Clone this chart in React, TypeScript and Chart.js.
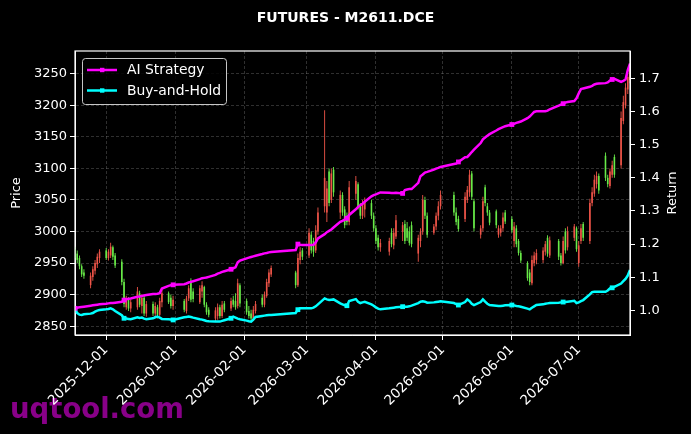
import { useEffect, useRef } from "react";
import { Chart, registerables } from "chart.js";

Chart.register(...registerables);

const TITLE = "FUTURES - M2611.DCE";

const dates = [
  "2025-11-17","2025-11-18","2025-11-19","2025-11-20","2025-11-21","2025-11-24","2025-11-25","2025-11-26","2025-11-27","2025-11-28",
  "2025-12-01","2025-12-02","2025-12-03","2025-12-04","2025-12-05","2025-12-08","2025-12-09","2025-12-10","2025-12-11","2025-12-12",
  "2025-12-15","2025-12-16","2025-12-17","2025-12-18","2025-12-19","2025-12-22","2025-12-23","2025-12-24","2025-12-25","2025-12-26",
  "2025-12-29","2025-12-30","2025-12-31",
  "2026-01-05","2026-01-06","2026-01-07","2026-01-08","2026-01-09","2026-01-12","2026-01-13","2026-01-14","2026-01-15","2026-01-16",
  "2026-01-19","2026-01-20","2026-01-21","2026-01-22","2026-01-23","2026-01-26","2026-01-27","2026-01-28","2026-01-29","2026-01-30",
  "2026-02-02","2026-02-03","2026-02-04","2026-02-05","2026-02-06","2026-02-09","2026-02-10","2026-02-11","2026-02-12","2026-02-13",
  "2026-02-24","2026-02-25","2026-02-26","2026-02-27",
  "2026-03-02","2026-03-03","2026-03-04","2026-03-05","2026-03-06","2026-03-09","2026-03-10","2026-03-11","2026-03-12","2026-03-13",
  "2026-03-16","2026-03-17","2026-03-18","2026-03-19","2026-03-20","2026-03-23","2026-03-24","2026-03-25","2026-03-26","2026-03-27",
  "2026-03-30","2026-03-31",
  "2026-04-01","2026-04-02","2026-04-03","2026-04-07","2026-04-08","2026-04-09","2026-04-10","2026-04-13","2026-04-14","2026-04-15",
  "2026-04-16","2026-04-17","2026-04-20","2026-04-21","2026-04-22","2026-04-23","2026-04-24","2026-04-27","2026-04-28","2026-04-29",
  "2026-04-30",
  "2026-05-06","2026-05-07","2026-05-08","2026-05-11","2026-05-12","2026-05-13","2026-05-14","2026-05-15","2026-05-18","2026-05-19",
  "2026-05-20","2026-05-21","2026-05-22","2026-05-25","2026-05-26","2026-05-27","2026-05-28","2026-05-29",
  "2026-06-01","2026-06-02","2026-06-03","2026-06-04","2026-06-05","2026-06-08","2026-06-09","2026-06-10","2026-06-11","2026-06-12",
  "2026-06-15","2026-06-16","2026-06-17","2026-06-18","2026-06-22","2026-06-23","2026-06-24","2026-06-25","2026-06-26","2026-06-29",
  "2026-06-30",
  "2026-07-01","2026-07-02","2026-07-03","2026-07-06","2026-07-07","2026-07-08","2026-07-09","2026-07-10","2026-07-13","2026-07-14",
  "2026-07-15","2026-07-16","2026-07-17","2026-07-20","2026-07-21","2026-07-22","2026-07-23","2026-07-24",
];

const opens = [
  2972,2965,2958,2945,2935,2915,2928,2938,2948,2958,
  2970,2958,2962,2975,2962,2952,2920,2880,2892,2878,2880,2902,2882,2895,2870,2885,2870,2880,2868,2888,2902,2895,2882,
  2890,2874,2894,2922,2905,2888,2905,2912,2884,2876,2862,2866,2880,2866,2886,2878,2892,2890,2882,2915,
  2890,2874,2870,2862,2874,2895,2884,2898,2918,2932,2935,2915,2955,2970,
  2962,2995,2985,2970,3000,3040,3030,3095,3050,3098,3030,3058,3035,3025,3015,3060,3075,3040,3025,3035,3045,3025,
  3005,2990,2975,2968,2998,2978,2992,3000,3012,3005,3000,3010,2965,2985,3000,3050,3025,2998,3008,3025,3040,
  3058,3030,3020,3020,3050,3062,3092,3048,2995,3005,3070,3040,3030,3032,2995,2998,3005,3030,
  3020,2985,3005,2985,2966,2950,2935,2918,2950,2955,2955,2968,2990,2962,2985,2962,2950,3000,2975,2990,3005,
  2950,2985,3012,2985,3045,3060,3075,3088,3120,3085,3072,3090,3118,3105,3175,3200,3225,3240,
];

const highs = [
  2976,2970,2962,2948,2940,2935,2945,2955,2965,2972,
  2974,2972,2982,2978,2966,2956,2925,2898,2896,2892,2912,2906,2900,2898,2890,2889,2888,2884,2895,2910,2905,2900,2898,
  2893,2898,2915,2926,2910,2915,2921,2914,2888,2880,2880,2886,2884,2890,2890,2895,2898,2902,2925,2918,
  2894,2882,2876,2882,2890,2900,2905,2925,2940,2946,2938,2965,2975,2974,
  3005,3000,2990,3010,3038,3192,3080,3100,3100,3102,3065,3062,3040,3030,3080,3088,3078,3045,3050,3054,3050,3030,
  3010,2995,2988,2990,3005,3005,3026,3015,3018,3015,3008,3016,2995,3005,3058,3055,3030,3012,3030,3048,3065,
  3063,3038,3025,3062,3072,3098,3096,3052,3010,3055,3074,3045,3034,3035,3010,3010,3030,3034,
  3024,3015,3010,2988,2970,2953,2940,2962,2968,2972,2975,2985,2994,2992,2988,2966,2992,3005,3008,3012,3008,
  2985,3012,3015,3052,3070,3090,3095,3092,3125,3090,3100,3112,3122,3190,3215,3235,3250,3265,
];

const lows = [
  2955,2950,2940,2928,2925,2910,2922,2932,2942,2950,
  2955,2954,2958,2955,2942,2915,2880,2876,2874,2872,2876,2880,2870,2866,2865,2866,2864,2862,2865,2880,2885,2878,2876,
  2872,2870,2890,2888,2888,2885,2895,2880,2868,2864,2858,2860,2862,2863,2872,2874,2880,2876,2878,2880,
  2868,2862,2858,2858,2870,2880,2880,2895,2912,2928,2910,2912,2948,2955,
  2958,2965,2960,2966,2995,3030,3015,3040,3045,3055,3020,3025,3005,3010,3010,3050,3035,3020,3020,3022,3020,3000,
  2980,2970,2968,2962,2975,2972,2988,2985,2980,2985,2978,2975,2952,2975,2995,3020,2990,2995,3002,3018,3035,
  3025,3010,3000,3015,3045,3055,3050,3000,2989,3000,3040,3025,3010,3005,2990,2992,3000,3012,
  2998,2975,2975,2962,2950,2922,2915,2915,2945,2948,2950,2962,2960,2958,2955,2946,2948,2965,2970,2985,2968,
  2944,2980,2985,2980,3040,3055,3068,3060,3080,3070,3068,3085,3085,3100,3170,3195,3218,3235,
];

const closes = [
  2958,2955,2945,2932,2930,2930,2940,2950,2960,2968,
  2958,2968,2976,2960,2946,2920,2885,2894,2878,2888,2905,2884,2895,2870,2885,2870,2882,2868,2890,2902,2888,2882,2892,
  2876,2894,2910,2892,2893,2910,2915,2884,2872,2868,2875,2880,2866,2884,2876,2890,2884,2880,2918,2886,
  2872,2866,2862,2876,2885,2884,2900,2920,2935,2942,2915,2958,2968,2960,
  2998,2970,2968,3002,3030,3085,3068,3045,3092,3062,3058,3030,3010,3015,3070,3080,3040,3025,3045,3048,3025,3005,
  2985,2975,2982,2985,2980,2998,3018,3010,2985,2990,2982,2980,2990,3000,3050,3025,2995,3008,3025,3040,3058,
  3030,3015,3004,3055,3066,3090,3055,3005,3005,3048,3045,3030,3014,3010,3005,3005,3022,3016,
  3002,3008,2980,2966,2954,2926,2920,2955,2962,2966,2970,2980,2965,2986,2960,2950,2985,2970,3000,3008,2972,
  2978,3005,2990,3045,3062,3082,3088,3065,3085,3075,3095,3105,3090,3180,3205,3228,3245,3258,
];

const aiReturn = [
  1.006,1.008,1.009,1.010,1.011,1.014,1.015,1.016,1.017,1.018,
  1.020,1.021,1.022,1.022,1.023,1.026,1.031,1.033,1.035,1.036,1.041,1.042,1.043,1.045,1.046,1.049,1.049,1.050,1.052,1.066,1.074,1.076,1.077,
  1.079,1.081,1.084,1.086,1.088,1.094,1.097,1.098,1.099,1.101,1.107,1.111,1.113,1.116,1.118,1.124,1.127,1.130,1.145,1.150,
  1.157,1.159,1.161,1.163,1.165,1.170,1.172,1.173,1.175,1.176,1.182,1.200,1.198,1.197,
  1.197,1.197,1.198,1.205,1.217,1.230,1.236,1.240,1.244,1.250,1.267,1.270,1.274,1.278,1.288,1.305,1.312,1.317,1.322,1.328,1.344,1.348,
  1.350,1.353,1.356,1.355,1.354,1.354,1.355,1.353,1.363,1.365,1.366,1.366,1.385,1.405,1.410,1.416,1.418,1.425,1.428,1.430,1.433,
  1.442,1.443,1.448,1.462,1.463,1.470,1.478,1.485,1.505,1.516,1.522,1.527,1.532,1.543,1.547,1.550,1.553,1.556,
  1.561,1.563,1.566,1.568,1.570,1.580,1.585,1.592,1.599,1.601,1.601,1.601,1.603,1.607,1.618,1.621,1.624,1.627,1.629,1.632,1.640,
  1.655,1.668,1.670,1.675,1.678,1.682,1.684,1.685,1.686,1.688,1.694,1.697,1.699,1.690,1.693,1.697,1.725,1.745,
];

const bhReturn = [
  0.999,0.992,0.987,0.986,0.988,0.990,0.992,0.996,0.999,1.001,
  1.003,1.004,1.006,1.003,0.998,0.985,0.976,0.975,0.974,0.973,0.979,0.977,0.978,0.975,0.973,0.976,0.979,0.981,0.978,0.974,0.973,0.972,0.971,
  0.979,0.980,0.981,0.980,0.978,0.973,0.972,0.970,0.968,0.967,0.966,0.966,0.966,0.968,0.970,0.976,0.981,0.978,0.975,0.973,
  0.969,0.967,0.966,0.972,0.980,0.983,0.984,0.985,0.986,0.986,0.992,1.002,1.006,1.006,
  1.006,1.006,1.008,1.012,1.018,1.036,1.033,1.031,1.032,1.033,1.021,1.018,1.015,1.014,1.028,1.034,1.026,1.022,1.024,1.026,1.018,1.014,
  1.009,1.005,1.003,1.006,1.007,1.008,1.009,1.011,1.011,1.011,1.012,1.014,1.022,1.026,1.027,1.026,1.023,1.024,1.025,1.026,1.027,
  1.022,1.019,1.016,1.025,1.033,1.028,1.020,1.016,1.025,1.033,1.026,1.020,1.016,1.014,1.013,1.013,1.014,1.015,
  1.016,1.015,1.013,1.012,1.011,1.005,1.003,1.008,1.012,1.016,1.018,1.020,1.021,1.022,1.023,1.024,1.025,1.025,1.026,1.029,1.022,
  1.024,1.028,1.031,1.048,1.055,1.056,1.056,1.056,1.056,1.060,1.066,1.068,1.071,1.081,1.088,1.095,1.105,1.122,
];

const monthTicks = ["2025-12-01","2026-01-01","2026-02-01","2026-03-01","2026-04-01","2026-05-01","2026-06-01","2026-07-01"];
const priceTicks = [2850, 2900, 2950, 3000, 3050, 3100, 3150, 3200, 3250];
const returnTicks = [1.0, 1.1, 1.2, 1.3, 1.4, 1.5, 1.6, 1.7];

const RED = "rgb(238,84,72)";
const GREEN = "rgb(104,234,72)";
const MAGENTA = "#ff00ff";
const CYAN = "#00ffff";
const GRID = "rgba(150,150,150,0.45)";
const FONT = "'DejaVu Sans', 'Liberation Sans', sans-serif";

const DAY = 86400000;
const dayNum = (s: string) => {
  const [y, m, d] = s.split("-").map(Number);
  return Date.UTC(y, m - 1, d) / DAY;
};
const fmtDay = (v: number) => new Date(Math.round(v) * DAY).toISOString().slice(0, 10);

const decorPlugin = {
  id: "decor",
  beforeDraw(chart: any) {
    const { ctx, width, height } = chart;
    ctx.save();
    ctx.fillStyle = "#000";
    ctx.fillRect(0, 0, width, height);
    ctx.font = `bold 27.5px ${FONT}`;
    ctx.fillStyle = "#880088";
    ctx.textAlign = "left";
    ctx.textBaseline = "alphabetic";
    ctx.fillText("uqtool.com", 10, 418);
    ctx.restore();
  },
  afterDraw(chart: any) {
    const { ctx, chartArea: a } = chart;
    ctx.save();
    ctx.strokeStyle = "#fff";
    ctx.lineWidth = 1.2;
    ctx.setLineDash([]);
    ctx.strokeRect(a.left, a.top, a.right - a.left, a.bottom - a.top);
    ctx.fillStyle = "#fff";
    ctx.font = `bold 14px ${FONT}`;
    ctx.textAlign = "center";
    ctx.textBaseline = "middle";
    ctx.fillText(TITLE, 345.5, 18);
    ctx.font = `13px ${FONT}`;
    const midY = (a.top + a.bottom) / 2;
    ctx.save();
    ctx.translate(17, midY);
    ctx.rotate(-Math.PI / 2);
    ctx.fillText("Price", 0, 0);
    ctx.restore();
    ctx.save();
    ctx.translate(673, midY);
    ctx.rotate(-Math.PI / 2);
    ctx.fillText("Return", 0, 0);
    ctx.restore();
    const lx = 82.5, ly = 58.5, lw = 144, lh = 46;
    ctx.beginPath();
    (ctx as any).roundRect(lx, ly, lw, lh, 3);
    ctx.fillStyle = "rgba(0,0,0,0.85)";
    ctx.fill();
    ctx.strokeStyle = "rgba(220,220,220,0.9)";
    ctx.lineWidth = 1;
    ctx.stroke();
    const rows = [
      { label: "AI Strategy", color: MAGENTA, y: 70 },
      { label: "Buy-and-Hold", color: CYAN, y: 90.5 },
    ];
    rows.forEach((r) => {
      ctx.strokeStyle = r.color;
      ctx.lineWidth = 2.5;
      ctx.beginPath();
      ctx.moveTo(87, r.y);
      ctx.lineTo(117, r.y);
      ctx.stroke();
      ctx.fillStyle = r.color;
      ctx.fillRect(100, r.y - 2.2, 4.4, 4.4);
      ctx.fillStyle = "#fff";
      ctx.font = `13.9px ${FONT}`;
      ctx.textAlign = "left";
      ctx.textBaseline = "middle";
      ctx.fillText(r.label, 127, r.y + 0.5);
    });
    ctx.restore();
  },
};

export default function App() {
  const ref = useRef<HTMLCanvasElement | null>(null);

  useEffect(() => {
    if (!ref.current) return;
    const xs = dates.map(dayNum);
    const candleColor = (c: any) =>
      closes[c.dataIndex] >= opens[c.dataIndex] ? RED : GREEN;
    const markerRadius = (c: any) => (c.dataIndex % 16 === 0 ? 3.4 : 0);

    const chart = new Chart(ref.current, {
      type: "line",
      data: {
        datasets: [
          {
            type: "line",
            label: "AI Strategy",
            data: xs.map((x, i) => ({ x, y: aiReturn[i] })),
            yAxisID: "y1",
            borderColor: MAGENTA,
            backgroundColor: MAGENTA,
            borderWidth: 2.5,
            pointStyle: "rect",
            pointRadius: markerRadius,
            pointHoverRadius: 0,
            pointBorderWidth: 0,
            tension: 0,
            fill: false,
            order: 0,
          } as any,
          {
            type: "line",
            label: "Buy-and-Hold",
            data: xs.map((x, i) => ({ x, y: bhReturn[i] })),
            yAxisID: "y1",
            borderColor: CYAN,
            backgroundColor: CYAN,
            borderWidth: 2.5,
            pointStyle: "rect",
            pointRadius: markerRadius,
            pointHoverRadius: 0,
            pointBorderWidth: 0,
            tension: 0,
            fill: false,
            order: 0,
          } as any,
          {
            type: "bar",
            label: "body",
            data: xs.map((x, i) => ({ x, y: [opens[i], closes[i]] })),
            yAxisID: "y",
            backgroundColor: candleColor,
            borderWidth: 0,
            barThickness: 1.6,
            inflateAmount: 0,
            grouped: false,
            minBarLength: 1,
            order: 1,
          } as any,
          {
            type: "bar",
            label: "wick",
            data: xs.map((x, i) => ({ x, y: [lows[i], highs[i]] })),
            yAxisID: "y",
            backgroundColor: candleColor,
            borderWidth: 0,
            barThickness: 0.9,
            inflateAmount: 0,
            grouped: false,
            order: 2,
          } as any,
        ],
      },
      options: {
        animation: false,
        responsive: false,
        events: [],
        layout: { padding: { top: 51, left: 0, right: 0, bottom: 0 } },
        plugins: {
          legend: { display: false },
          title: { display: false },
          tooltip: { enabled: false },
        },
        scales: {
          x: {
            type: "linear",
            bounds: "data",
            min: xs[0],
            max: xs[xs.length - 1],
            offset: false,
            afterBuildTicks: (s: any) => {
              s.ticks = monthTicks.map((t) => ({ value: dayNum(t) }));
            },
            afterFit: (s: any) => {
              s.height = 99;
            },
            ticks: {
              color: "#fff",
              font: { family: FONT, size: 13.5 },
              minRotation: 45,
              maxRotation: 45,
              autoSkip: false,
              padding: 2,
              callback: (v: any) => fmtDay(Number(v)),
            },
            grid: {
              color: GRID,
              lineWidth: 0.7,
              tickColor: "#fff",
              tickLength: 5,
              tickWidth: 1,
              offset: false,
            },
            border: { color: "#fff", width: 1, dash: [3, 2] },
          } as any,
          y: {
            type: "linear",
            position: "left",
            bounds: "data",
            min: 2836,
            max: 3286,
            afterBuildTicks: (s: any) => {
              s.ticks = priceTicks.map((v) => ({ value: v }));
            },
            afterFit: (s: any) => {
              s.width = 75;
            },
            ticks: {
              color: "#fff",
              font: { family: FONT, size: 13 },
              padding: 3,
              callback: (v: any) => String(v),
            },
            grid: {
              color: GRID,
              lineWidth: 0.7,
              tickColor: "#fff",
              tickLength: 5,
              tickWidth: 1,
            },
            border: { color: "#fff", width: 1, dash: [3, 2] },
          } as any,
          y1: {
            type: "linear",
            position: "right",
            bounds: "data",
            min: 0.9255,
            max: 1.783,
            afterBuildTicks: (s: any) => {
              s.ticks = returnTicks.map((v) => ({ value: v }));
            },
            afterFit: (s: any) => {
              s.width = 61;
            },
            ticks: {
              color: "#fff",
              font: { family: FONT, size: 13 },
              padding: 4,
              callback: (v: any) => Number(v).toFixed(1),
            },
            grid: {
              drawOnChartArea: false,
              tickColor: "#fff",
              tickLength: 5,
              tickWidth: 1,
            },
            border: { color: "#fff", width: 1 },
          } as any,
        },
      },
      plugins: [decorPlugin],
    });
    return () => chart.destroy();
  }, []);

  return (
    <div style={{ position: "fixed", left: 0, top: 0, width: 691, height: 434, background: "#000" }}>
      <canvas ref={ref} width={691} height={434} style={{ display: "block", width: 691, height: 434 }} />
    </div>
  );
}
